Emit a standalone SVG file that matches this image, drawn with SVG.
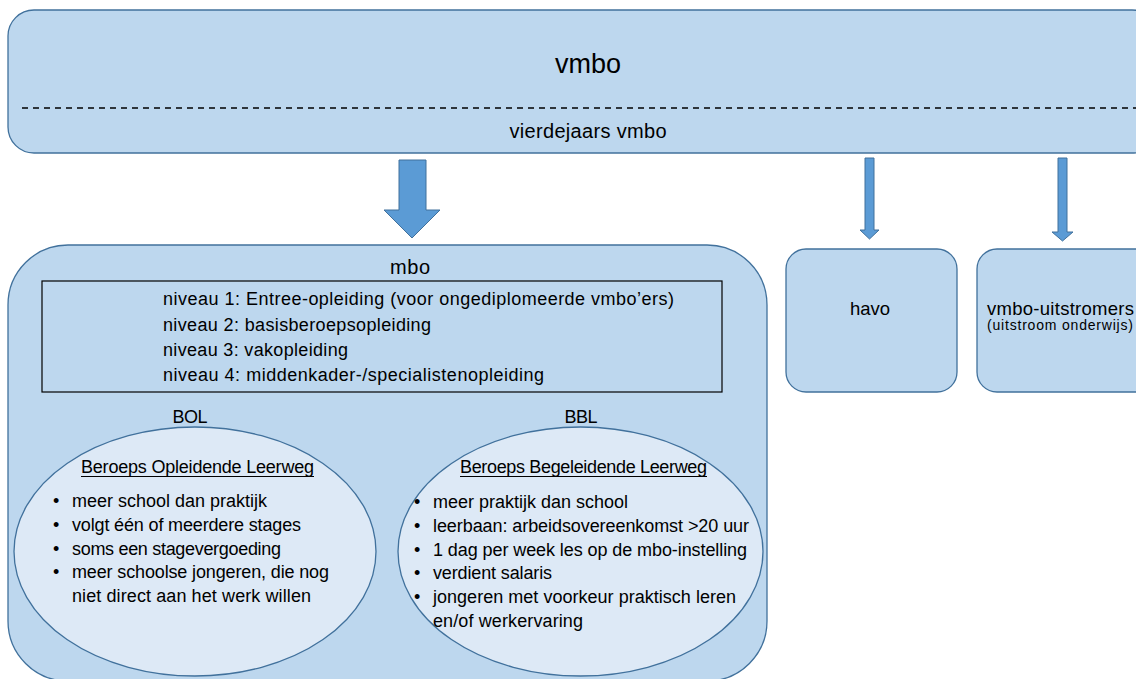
<svg xmlns="http://www.w3.org/2000/svg" width="1136" height="679" viewBox="0 0 1136 679">
<defs>
<style>
.box{fill:#bdd7ee;stroke:#41719c;stroke-width:1.3}
.ell{fill:#dde9f6;stroke:#41719c;stroke-width:1.3}
.arr{fill:#5b9bd5;stroke:#41719c;stroke-width:1}
.t{font-family:"Liberation Sans",Arial,sans-serif;fill:#000}
.b{font-size:18px}
.conn{stroke:#5b9bd5;stroke-width:5;fill:none}
</style>
</defs>
<rect width="1136" height="679" fill="#fff"/>

<g id="vmbo">
<rect class="box" x="8" y="10" width="1150" height="143" rx="26"/>
<line x1="22" y1="108" x2="1136" y2="108" stroke="#000" stroke-width="1.3" stroke-dasharray="6,5"/>
<text class="t" x="588" y="73" font-size="27" text-anchor="middle" textLength="66">vmbo</text>
<text class="t" x="588" y="138" font-size="20" text-anchor="middle" textLength="157">vierdejaars vmbo</text>
</g>

<g id="connectors">
<path class="arr" d="M399,160 H426 V210 H440 L412,238 L384,210 H399 Z"/>
<path class="arr" d="M865,158 H874 V230 H879 L869.5,239 L860,230 H865 Z"/>
<path class="arr" d="M1058,158 H1067 V232 H1073 L1062.5,241 L1052,232 H1058 Z"/>
<polyline class="conn" points="322,456 386,400 451,456" stroke-linejoin="miter"/>
<path d="M332,447 L313,463 L338,457 Z" fill="#5b9bd5"/>
<path d="M441,447 L460,463 L435,457 Z" fill="#5b9bd5"/>
</g>

<g id="havo">
<rect class="box" x="786" y="249" width="171" height="143" rx="20"/>
<text class="t" x="870" y="315" font-size="18.5">
<tspan text-anchor="middle">havo</tspan></text>
</g>

<g id="uitstromers">
<rect class="box" x="977" y="249" width="180" height="143" rx="20"/>
<text class="t" x="987" y="315" font-size="18.5" textLength="147">vmbo-uitstromers</text>
<text class="t" x="987" y="330" font-size="14" textLength="146">(uitstroom onderwijs)</text>
</g>

<g id="mbo">
<rect class="box" x="8" y="245" width="759" height="436" rx="60"/>
<text class="t" x="410" y="274" font-size="20" text-anchor="middle" textLength="40">mbo</text>
</g>

<g id="niveaus">
<rect x="42" y="281" width="680" height="111" fill="none" stroke="#000" stroke-width="1.2"/>
<text class="t b" x="163" y="305" textLength="511">niveau 1: Entree-opleiding (voor ongediplomeerde vmbo’ers)</text>
<text class="t b" x="163" y="331" textLength="268">niveau 2: basisberoepsopleiding</text>
<text class="t b" x="163" y="356" textLength="185">niveau 3: vakopleiding</text>
<text class="t b" x="163" y="381" textLength="381">niveau 4: middenkader-/specialistenopleiding</text>
</g>

<g id="bol">
<text class="t b" x="190" y="423" text-anchor="middle" textLength="35">BOL</text>
<ellipse class="ell" cx="195" cy="551.5" rx="181" ry="124.5"/>
<text class="t b" x="81" y="473" textLength="233">Beroeps Opleidende Leerweg</text>
<line x1="81" y1="476.5" x2="314" y2="476.5" stroke="#000" stroke-width="1"/>
<g class="t b">
<text x="53" y="507">•</text><text x="72" y="507" textLength="195">meer school dan praktijk</text>
<text x="53" y="531">•</text><text x="72" y="531" textLength="229">volgt één of meerdere stages</text>
<text x="53" y="555">•</text><text x="72" y="555" textLength="209">soms een stagevergoeding</text>
<text x="53" y="578">•</text><text x="72" y="578" textLength="257">meer schoolse jongeren, die nog</text>
<text x="72" y="602" textLength="239">niet direct aan het werk willen</text>
</g>
</g>

<g id="bbl">
<text class="t b" x="581" y="423" text-anchor="middle" textLength="33">BBL</text>
<ellipse class="ell" cx="580.5" cy="551.5" rx="182.5" ry="124.5"/>
<text class="t b" x="460" y="473" textLength="247">Beroeps Begeleidende Leerweg</text>
<line x1="460" y1="476.5" x2="707" y2="476.5" stroke="#000" stroke-width="1"/>
<g class="t b">
<text x="414" y="508">•</text><text x="433" y="508" textLength="195">meer praktijk dan school</text>
<text x="414" y="532">•</text><text x="433" y="532" textLength="316">leerbaan: arbeidsovereenkomst &gt;20 uur</text>
<text x="414" y="556">•</text><text x="433" y="556" textLength="314">1 dag per week les op de mbo-instelling</text>
<text x="414" y="579">•</text><text x="433" y="579" textLength="119">verdient salaris</text>
<text x="414" y="603">•</text><text x="433" y="603" textLength="303">jongeren met voorkeur praktisch leren</text>
<text x="433" y="627" textLength="150">en/of werkervaring</text>
</g>
</g>
</svg>
